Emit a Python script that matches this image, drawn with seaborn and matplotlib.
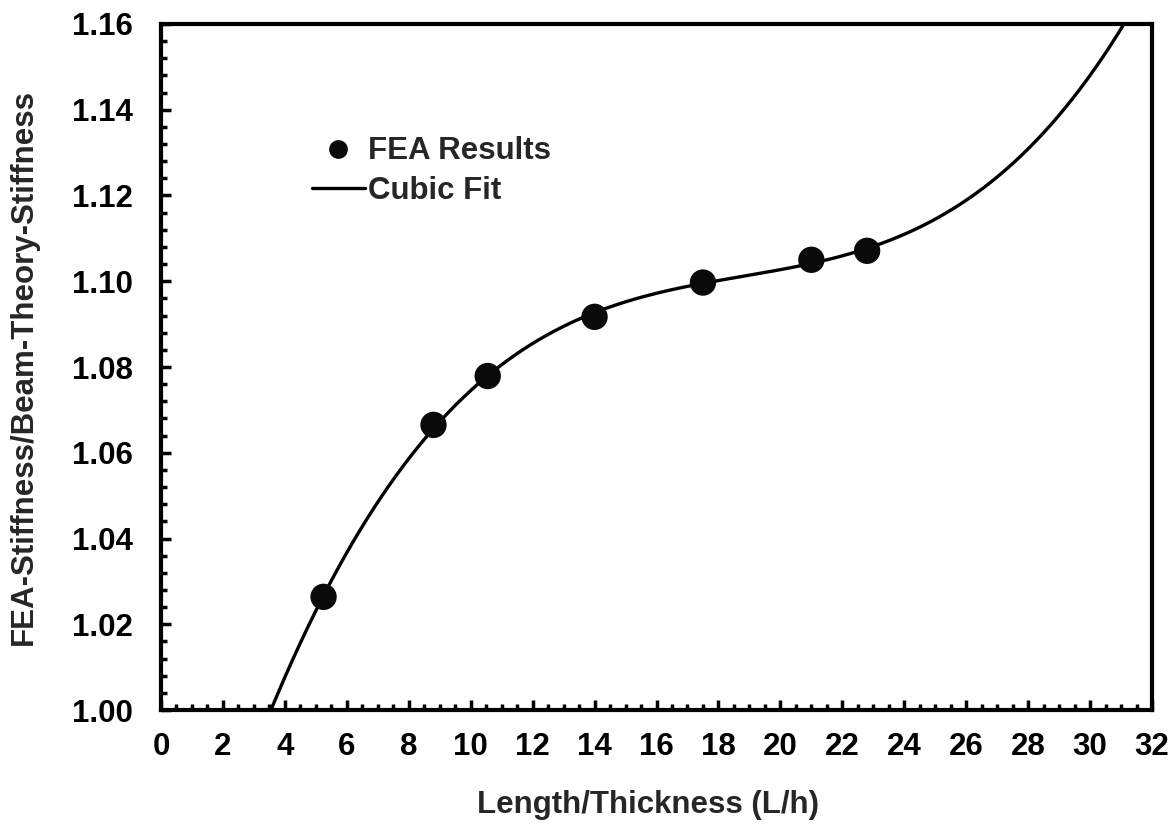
import numpy as np
import pandas as pd
import matplotlib
matplotlib.use("Agg")
import matplotlib.pyplot as plt
import seaborn as sns
from matplotlib.ticker import MultipleLocator, FormatStrFormatter
from matplotlib.lines import Line2D

# FEA stiffness ratio versus slenderness
length_thickness = [5.25, 8.8, 10.55, 14.0, 17.5, 21.0, 22.8]
stiffness_ratio = [1.0264, 1.0665, 1.0779, 1.0917, 1.0997, 1.1050, 1.1071]

x_ticks = list(range(0, 33, 2))
y_ticks = [1.00, 1.02, 1.04, 1.06, 1.08, 1.10, 1.12, 1.14, 1.16]

df = pd.DataFrame({"L/h": length_thickness, "ratio": stiffness_ratio})

# third-order polynomial through the FEA results
coef = np.polyfit(df["L/h"], df["ratio"], 3)
fit_x = np.linspace(0, 32, 400)
fit = pd.DataFrame({"L/h": fit_x, "ratio": np.polyval(coef, fit_x)})

sns.set_theme(style="white")
plt.rcParams["font.family"] = ["Liberation Sans", "DejaVu Sans"]
plt.rcParams["font.weight"] = "bold"

FS = 22.5

fig = plt.figure(figsize=(11.74, 8.24), dpi=100)
ax = fig.add_axes([0.1371, 0.1383, 0.8442, 0.8326])

sns.lineplot(data=fit, x="L/h", y="ratio", ax=ax, color="black", lw=2.4,
             sort=True, estimator=None)
sns.scatterplot(data=df, x="L/h", y="ratio", ax=ax, color="#0a0a0a", s=360,
                edgecolor="none", zorder=3)

ax.set_xlim(0, 32)
ax.set_ylim(1.00, 1.16)
ax.set_xticks(x_ticks)
ax.set_yticks(y_ticks)
ax.yaxis.set_major_formatter(FormatStrFormatter("%.2f"))
ax.xaxis.set_minor_locator(MultipleLocator(0.5))
ax.yaxis.set_minor_locator(MultipleLocator(0.004))

for side in ax.spines.values():
    side.set_linewidth(3.0)
    side.set_color("black")

ax.tick_params(axis="both", which="major", direction="in", length=7, width=2.5,
               labelsize=FS, colors="black")
ax.tick_params(axis="both", which="minor", direction="in", length=4.5, width=2.5,
               colors="black")
ax.tick_params(axis="x", which="both", bottom=True, top=False, pad=16)
ax.tick_params(axis="y", which="both", left=True, right=False, pad=20)
for lab in ax.get_xticklabels() + ax.get_yticklabels():
    lab.set_fontweight("bold")

ax.set_xlabel("Length/Thickness (L/h)", fontsize=FS, fontweight="bold", labelpad=20)
ax.xaxis.label.set_x(0.491)
ax.set_ylabel("FEA-Stiffness/Beam-Theory-Stiffness", fontsize=FS,
              fontweight="bold", labelpad=24)

handles = [
    Line2D([], [], marker="o", linestyle="none", color="#0a0a0a", markersize=12.5),
    Line2D([], [], color="black", lw=2.4),
]
ax.legend(handles, ["FEA Results", "Cubic Fit"], loc="upper left",
          bbox_to_anchor=(0.152, 0.836), frameon=False,
          prop={"size": FS, "weight": "bold"}, handlelength=1.7,
          handletextpad=0.12, labelspacing=0.3, borderaxespad=0, borderpad=0)

fig.savefig("out.png", dpi=100)
